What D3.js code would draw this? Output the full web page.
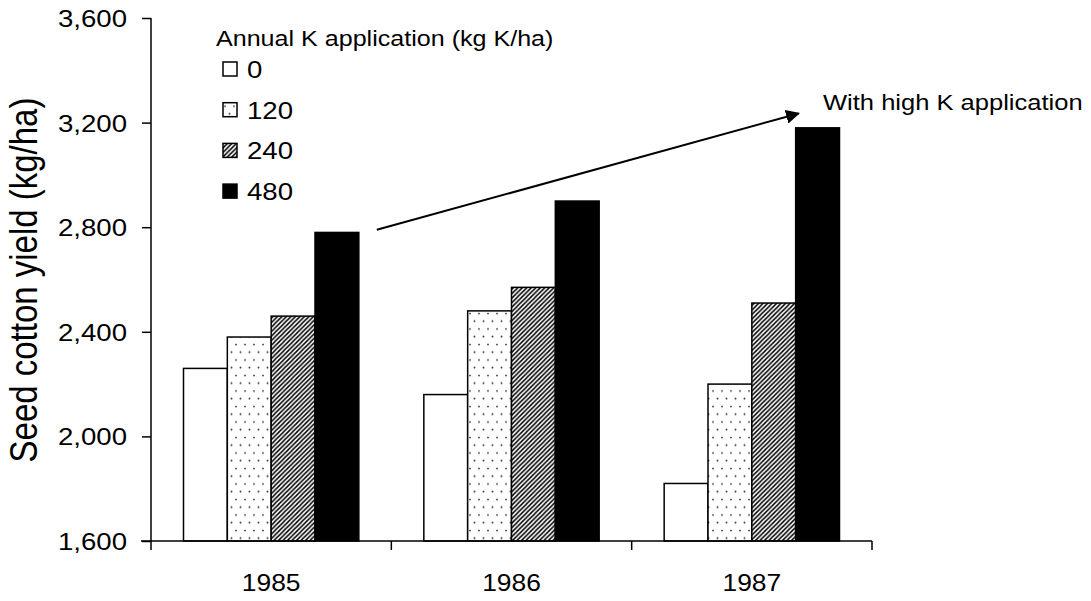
<!DOCTYPE html>
<html>
<head>
<meta charset="utf-8">
<script src="https://cdn.jsdelivr.net/npm/d3@7"></script>
<style>
  html, body { margin: 0; padding: 0; background: #fff; }
  text { font-family: "Liberation Sans", Arial, sans-serif; fill: #000; }
</style>
</head>
<body>
<div id="svgContainer"></div>
<script>
var years = ["1985", "1986", "1987"];
var rates = ["0", "120", "240", "480"];
var yield0 = [2260, 2160, 1820];
var yield120 = [2380, 2480, 2200];
var yield240 = [2460, 2570, 2510];
var yield480 = [2780, 2900, 3180];
var yTicks = [1600, 2000, 2400, 2800, 3200, 3600];
var legendTitle = "Annual K application (kg K/ha)";
var yLabel = "Seed cotton yield (kg/ha)";
var noteText = "With high K application";
var arrowFrom = 2790, arrowTo = 3235;

var width = 1091, height = 601;
var series = [yield0, yield120, yield240, yield480];
var fills = ["#fff", "url(#dots)", "url(#hatch)", "#000"];

var rows = [];
years.forEach((yr, i) => {
    rates.forEach((r, j) => rows.push({ year: yr, rate: r, value: series[j][i], k: j }));
});

// the original text is a bit wider than Arial, stretch it sideways
var widen = (sel, f) => {
    sel.each(function() {
        var len = this.getComputedTextLength();
        d3.select(this)
            .attr("textLength", len * f)
            .attr("lengthAdjust", "spacingAndGlyphs");
    });
};

var svg = d3.select("#svgContainer").append("svg")
    .attr("width", width)
    .attr("height", height)
    .style("display", "block");

var defs = svg.append("defs");

var dots = defs.append("pattern")
    .attr("id", "dots")
    .attr("patternUnits", "userSpaceOnUse")
    .attr("width", 9)
    .attr("height", 15.5);
dots.append("rect").attr("width", 9).attr("height", 15.5).attr("fill", "#fff");
dots.append("circle").attr("cx", 2).attr("cy", 3.5).attr("r", 0.95).attr("fill", "#333");
dots.append("circle").attr("cx", 6.5).attr("cy", 11.2).attr("r", 0.95).attr("fill", "#333");

var hatch = defs.append("pattern")
    .attr("id", "hatch")
    .attr("patternUnits", "userSpaceOnUse")
    .attr("width", 4.5)
    .attr("height", 4.5);
hatch.append("rect").attr("width", 4.5).attr("height", 4.5).attr("fill", "#fff");
hatch.append("path")
    .attr("d", "M-1,1 l2,-2 M0,4.5 l4.5,-4.5 M3.5,5.5 l2,-2")
    .attr("stroke", "#000")
    .attr("stroke-width", 1.5);

defs.append("marker")
    .attr("id", "head")
    .attr("viewBox", "0 0 10 10")
    .attr("refX", 9)
    .attr("refY", 5)
    .attr("markerWidth", 7)
    .attr("markerHeight", 7)
    .attr("orient", "auto")
    .append("path")
    .attr("d", "M0,0 L10,5 L0,10 z")
    .attr("fill", "#000");

var x = d3.scaleBand().domain(years).range([151, 872]);
var xInner = d3.scaleBand().domain(rates)
    .range([32.5, x.bandwidth() - 32.5]);
var y = d3.scaleLinear().domain([1600, 3600]).range([541, 18]);

// bars
svg.append("g")
    .selectAll("rect")
    .data(rows)
    .enter().append("rect")
    .attr("x", d => x(d.year) + xInner(d.rate))
    .attr("y", d => y(d.value))
    .attr("width", xInner.bandwidth())
    .attr("height", d => y(1600) - y(d.value))
    .attr("fill", d => fills[d.k])
    .attr("stroke", "#000")
    .attr("stroke-width", 1.5);

// y axis
var yAxis = svg.append("g")
    .attr("transform", "translate(151,0)")
    .call(d3.axisLeft(y).tickValues(yTicks).tickSize(9).tickPadding(15)
        .tickFormat(d3.format(",")));
yAxis.select(".domain").remove();
yAxis.selectAll("line").attr("stroke", "#000").attr("stroke-width", 1.5);
yAxis.selectAll("text").attr("font-size", 24).attr("font-family", null)
    .attr("dy", "0.35em")
    .call(widen, 1.15);
svg.append("line")
    .attr("x1", 151).attr("x2", 151)
    .attr("y1", y(3600)).attr("y2", 550)
    .attr("stroke", "#000").attr("stroke-width", 1.5);

// x axis
var xAxis = svg.append("g")
    .attr("transform", "translate(0,541)")
    .call(d3.axisBottom(x).tickSize(0).tickPadding(33));
xAxis.select(".domain").remove();
xAxis.selectAll("text").attr("font-size", 24).attr("font-family", null)
    .call(widen, 1.1);
svg.append("line")
    .attr("x1", 141).attr("x2", 872)
    .attr("y1", 541).attr("y2", 541)
    .attr("stroke", "#000").attr("stroke-width", 1.5);
svg.append("g")
    .selectAll("line")
    .data(years.slice(1).concat(["end"]))
    .enter().append("line")
    .attr("x1", d => d == "end" ? 872 : x(d))
    .attr("x2", d => d == "end" ? 872 : x(d))
    .attr("y1", 541).attr("y2", 550)
    .attr("stroke", "#000").attr("stroke-width", 1.5);

// y label
svg.append("text")
    .attr("transform", "translate(37,280) scale(1.15,1) rotate(-90)")
    .attr("text-anchor", "middle")
    .attr("font-size", 33)
    .text(yLabel);

// legend
svg.append("text")
    .attr("x", 216).attr("y", 46)
    .attr("font-size", 22)
    .text(legendTitle)
    .call(widen, 1.14);

var legend = svg.append("g")
    .selectAll("g")
    .data(rates)
    .enter().append("g")
    .attr("transform", (d, i) => "translate(223," + (62 + i * 40.7) + ")");
legend.append("rect")
    .attr("width", 14).attr("height", 14)
    .attr("fill", (d, i) => fills[i])
    .attr("stroke", "#000").attr("stroke-width", 1.5);
legend.append("text")
    .attr("x", 24).attr("y", 16)
    .attr("font-size", 24)
    .text(d => d)
    .call(widen, 1.15);

// annotation arrow
var x0 = x("1985") + xInner("480") + xInner.bandwidth() + 18;
var x1 = x("1987") + xInner("480") + 3;
svg.append("line")
    .attr("x1", x0).attr("y1", y(arrowFrom))
    .attr("x2", x1).attr("y2", y(arrowTo))
    .attr("stroke", "#000")
    .attr("stroke-width", 2)
    .attr("marker-end", "url(#head)");
svg.append("text")
    .attr("x", 823).attr("y", 110)
    .attr("font-size", 22)
    .text(noteText)
    .call(widen, 1.16);
</script>
</body>
</html>
